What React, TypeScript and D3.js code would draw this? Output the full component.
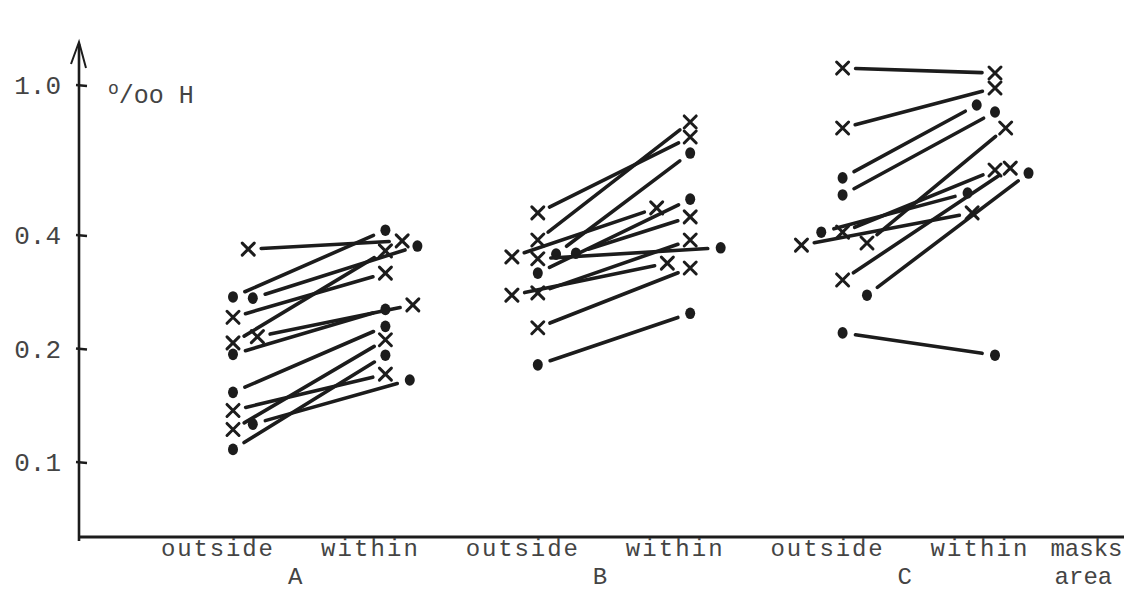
import React from "react";
import * as d3 from "d3";

// ---- data (per mill H) ----
const columns = ["A-out", "A-in", "B-out", "B-in", "C-out", "C-in"];
const groupNames = ["A", "B", "C"];
const yTicks = [0.1, 0.2, 0.4, 1.0];
const yTickLabels = ["0.1", "0.2", "0.4", "1.0"];
const sideLabels = ["outside", "within"];

const aOutside = [0.367, 0.274, 0.272, 0.242, 0.207, 0.215, 0.193, 0.153, 0.137, 0.122, 0.126, 0.108];
const aWithin = [0.386, 0.412, 0.374, 0.317, 0.363, 0.261, 0.254, 0.229, 0.171, 0.211, 0.165, 0.192];
const aOutMark = ["x", "d", "d", "x", "x", "x", "d", "d", "x", "x", "d", "d"];
const aInMark = ["x", "d", "d", "x", "x", "x", "d", "d", "x", "x", "d", "d"];
const aOutShift = [0.1, 0, 0.13, 0, 0, 0.16, 0, 0, 0, 0, 0.13, 0];
const aInShift = [0.11, 0, 0.21, 0, 0, 0.18, 0, 0, 0, 0, 0.16, 0];

const bOutside = [0.458, 0.388, 0.356, 0.35, 0.317, 0.358, 0.346, 0.277, 0.281, 0.227, 0.181];
const bWithin = [0.728, 0.798, 0.66, 0.472, 0.498, 0.447, 0.37, 0.337, 0.388, 0.327, 0.248];
const bOutMark = ["x", "x", "d", "x", "d", "d", "x", "x", "x", "x", "d"];
const bInMark = ["x", "x", "d", "x", "d", "x", "d", "x", "x", "x", "d"];
const bOutShift = [0, 0, 0.12, -0.17, 0, 0.25, 0, -0.17, 0, 0, 0];
const bInShift = [0, 0, 0, -0.22, 0, 0, 0.2, -0.15, 0, 0, 0];

const cOutside = [1.109, 0.769, 0.567, 0.511, 0.381, 0.407, 0.407, 0.376, 0.304, 0.277, 0.22];
const cWithin = [1.076, 0.982, 0.885, 0.848, 0.769, 0.595, 0.517, 0.458, 0.602, 0.584, 0.192];
const cOutMark = ["x", "x", "d", "d", "x", "x", "d", "x", "x", "d", "d"];
const cInMark = ["x", "x", "d", "d", "x", "x", "d", "x", "x", "d", "d"];
const cOutShift = [0, 0, 0, 0, 0.16, 0, -0.14, -0.27, 0, 0.16, 0];
const cInShift = [0, 0, -0.12, 0, 0.07, 0, -0.18, -0.15, 0.1, 0.22, 0];

const groupData = [
  { name: "A", out: aOutside, inn: aWithin, om: aOutMark, im: aInMark, os: aOutShift, is: aInShift },
  { name: "B", out: bOutside, inn: bWithin, om: bOutMark, im: bInMark, os: bOutShift, is: bInShift },
  { name: "C", out: cOutside, inn: cWithin, om: cOutMark, im: cInMark, os: cOutShift, is: cInShift },
];

const INK = "#1c1c1c";
const TEXT = "#444";
const FONT = "'Liberation Mono', 'DejaVu Sans Mono', monospace";

function Marker({ kind, x, y }: { kind: string; x: number; y: number }) {
  if (kind === "x") {
    return (
      <path
        d={`M${x - 6},${y - 6}L${x + 6},${y + 6}M${x + 6},${y - 6}L${x - 6},${y + 6}`}
        stroke={INK}
        strokeWidth={3}
        strokeLinecap="round"
        fill="none"
      />
    );
  }
  return <ellipse cx={x} cy={y} rx={5} ry={5.8} fill={INK} />;
}

export default function App() {
  const W = 1129;
  const H = 595;
  const axisX = 79;
  const axisY = 537;

  const x = d3.scalePoint<string>().domain(columns).range([233, 995]);
  const step = x.step();
  const y = d3.scaleLog().domain([0.1, 1]).range([462, 85]);

  const segs: any[] = [];
  groupData.forEach((g) => {
    g.out.forEach((v, i) => {
      const x1 = (x(`${g.name}-out`) as number) + g.os[i] * step;
      const x2 = (x(`${g.name}-in`) as number) + g.is[i] * step;
      const y1 = y(v);
      const y2 = y(g.inn[i]);
      const dx = x2 - x1;
      const dy = y2 - y1;
      const len = Math.hypot(dx, dy);
      const ux = dx / len;
      const uy = dy / len;
      const t = 13;
      segs.push({
        key: `${g.name}${i}`,
        x1, y1, x2, y2,
        lx1: x1 + ux * t, ly1: y1 + uy * t,
        lx2: x2 - ux * t, ly2: y2 - uy * t,
        om: g.om[i], im: g.im[i],
      });
    });
  });

  const row1 = 556;
  const row2 = 584;
  const fs = 24;

  return (
    <svg width={W} height={H} style={{ position: "absolute", left: 0, top: 0, background: "#fff" }}>
      <rect x={0} y={0} width={W} height={H} fill="#fff" />
      {/* axes */}
      <line x1={axisX} y1={axisY + 4} x2={axisX} y2={44} stroke={INK} strokeWidth={2.6} />
      <path d={`M${axisX - 8},${64}L${axisX},${42}L${axisX + 7},${68}`} stroke={INK} strokeWidth={2} fill="none" />
      <line x1={axisX - 1} y1={axisY} x2={1124} y2={axisY} stroke={INK} strokeWidth={3} />

      {yTicks.map((t, i) => (
        <g key={t}>
          <line x1={axisX - 3} y1={y(t)} x2={axisX + 8} y2={y(t) + 1} stroke={INK} strokeWidth={2.4} />
          <text x={61} y={y(t) + 9} textAnchor="end" fontFamily={FONT} fontSize={26} fill={TEXT}>
            {yTickLabels[i]}
          </text>
        </g>
      ))}

      <text x={108} y={103} fontFamily={FONT} fontSize={25} fill={TEXT}>
        <tspan fontSize={18} dy={-9}>o</tspan>
        <tspan dy={9}>/oo H</tspan>
      </text>

      {/* x labels */}
      {columns.map((c, i) => (
        <text key={c} x={(x(c) as number) - 16} y={row1} textAnchor="middle" fontFamily={FONT} fontSize={fs} fill={TEXT} textLength={i % 2 === 0 ? 112 : 97}>
          {sideLabels[i % 2]}
        </text>
      ))}
      {groupNames.map((g) => (
        <text
          key={g}
          x={((x(`${g}-out`) as number) + (x(`${g}-in`) as number)) / 2 - 14}
          y={row2}
          textAnchor="middle"
          fontFamily={FONT}
          fontSize={fs}
          fill={TEXT}
        >
          {g}
        </text>
      ))}
      <text x={(x("C-in") as number) + step * 0.6} y={row1} textAnchor="middle" fontFamily={FONT} fontSize={fs} fill={TEXT}>
        masks
      </text>
      <text x={(x("C-in") as number) + step * 0.58} y={row2} textAnchor="middle" fontFamily={FONT} fontSize={fs} fill={TEXT}>
        area
      </text>

      {/* data */}
      {segs.map((s) => (
        <g key={s.key}>
          <line x1={s.lx1} y1={s.ly1} x2={s.lx2} y2={s.ly2} stroke={INK} strokeWidth={3.6} strokeLinecap="round" />
          <Marker kind={s.om} x={s.x1} y={s.y1} />
          <Marker kind={s.im} x={s.x2} y={s.y2} />
        </g>
      ))}
    </svg>
  );
}
